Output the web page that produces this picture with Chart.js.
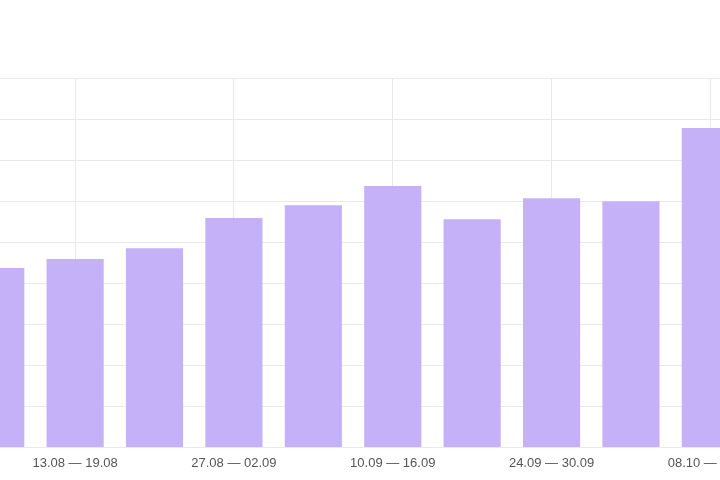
<!DOCTYPE html>
<html>
<head>
<meta charset="utf-8">
<script src="https://cdn.jsdelivr.net/npm/chart.js@4/dist/chart.umd.min.js"></script>
<style>
    html, body { margin: 0; padding: 0; background: #fff; }
    #wrap { position: relative; width: 720px; height: 480px; overflow: hidden; }
    #box { position: absolute; left: -44px; top: 0; width: 805px; height: 480px; }
</style>
</head>
<body>
<div id="wrap"><div id="box"><canvas id="chartCanvas"></canvas></div></div>
<script>
"use strict";

// weekly ranges, one bar per week
const weeks = [
    '06.08 — 12.08',
    '13.08 — 19.08',
    '20.08 — 26.08',
    '27.08 — 02.09',
    '03.09 — 09.09',
    '10.09 — 16.09',
    '17.09 — 23.09',
    '24.09 — 30.09',
    '01.10 — 07.10',
    '08.10 — 14.10'
];

const values = [437, 459, 485, 559, 590, 637, 556, 607, 600, 778];

const yMin = 0;
const yMax = 900;
const yStep = 100;

const ctx = document.getElementById('chartCanvas');

const data = {
    labels: weeks,
    datasets: [{
        label: 'Weekly',
        data: values,
        backgroundColor: '#c4b1f8',
        borderWidth: 0,
        barPercentage: 0.9,
        categoryPercentage: 0.8
    }]
};

const config = {
    type: 'bar',
    data: data,
    options: {
        responsive: true,
        maintainAspectRatio: false,
        animation: false,
        layout: {
            padding: { top: 78, bottom: 1, left: 0, right: 0 }
        },
        plugins: {
            legend: { display: false },
            tooltip: { enabled: false }
        },
        scales: {
            x: {
                grid: {
                    offset: false,
                    drawTicks: false,
                    color: (c) => (c.index % 2 === 1 ? '#e9e9e9' : 'rgba(0,0,0,0)')
                },
                border: { display: false },
                ticks: {
                    autoSkip: false,
                    maxRotation: 0,
                    padding: 8,
                    color: '#555',
                    font: { family: '"Liberation Sans", Arial, sans-serif', size: 13 },
                    callback: function (v, i) {
                        return i % 2 === 1 ? weeks[i] : '';
                    }
                }
            },
            y: {
                min: yMin,
                max: yMax,
                grid: { color: '#e9e9e9', drawTicks: false },
                border: { display: false },
                ticks: { display: false, stepSize: yStep }
            }
        }
    }
};

new Chart(ctx, config);
</script>
</body>
</html>
